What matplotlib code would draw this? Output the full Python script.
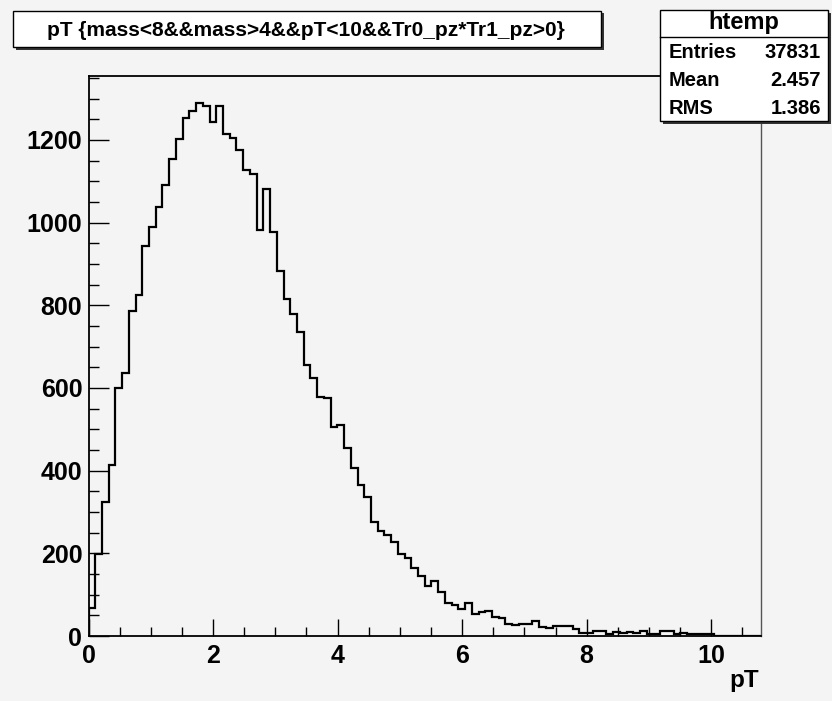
import numpy as np
import matplotlib.pyplot as plt
from matplotlib.patches import Rectangle
from matplotlib.ticker import MultipleLocator

# 100 bins of pT from 0 to 10.8 (htemp), counts
x_min, x_max, n_bins = 0.0, 10.8, 100
counts = [
    68, 198, 323, 413, 599, 635, 786, 826, 943, 990,
    1037, 1092, 1153, 1202, 1254, 1269, 1290, 1282, 1243, 1283,
    1215, 1204, 1176, 1128, 1117, 982, 1080, 976, 882, 814,
    778, 736, 655, 624, 577, 575, 506, 511, 454, 406,
    365, 335, 275, 255, 245, 227, 198, 188, 164, 144,
    120, 133, 107, 81, 75, 65, 79, 53, 57, 60,
    46, 43, 30, 27, 30, 28, 36, 21, 19, 23,
    23, 23, 16, 8, 8, 13, 13, 6, 10, 8,
    9, 7, 12, 6, 6, 12, 12, 4, 8, 4,
    4, 6, 4, 0, 0, 0, 0, 0, 0, 0,
]
title = "pT {mass<8&&mass>4&&pT<10&&Tr0_pz*Tr1_pz>0}"
stats_name = "htemp"
stats_rows = [("Entries", "37831"), ("Mean", "2.457"), ("RMS", "1.386")]

W, H = 832, 701
bg = "#f4f4f4"
plt.rcParams['font.family'] = ['Liberation Sans', 'DejaVu Sans']
plt.rcParams['font.weight'] = 'bold'

fig = plt.figure(figsize=(W / 100, H / 100), dpi=100, facecolor=bg)
ax = fig.add_axes([88.5 / W, 1 - 636 / H, (761 - 88.5) / W, (636 - 76) / H])
ax.set_facecolor(bg)

edges = np.linspace(x_min, x_max, n_bins + 1)
ax.stairs(counts, edges, color="black", linewidth=1.6, baseline=0)

ax.set_xlim(x_min, x_max)
ax.set_ylim(0, 1.05 * max(counts))
ax.xaxis.set_major_locator(MultipleLocator(2))
ax.xaxis.set_minor_locator(MultipleLocator(0.5))
ax.yaxis.set_major_locator(MultipleLocator(200))
ax.yaxis.set_minor_locator(MultipleLocator(50))
ax.tick_params(which="both", direction="in", labelsize=18, width=1)
ax.tick_params(axis="x", which="major", length=12, pad=6)
ax.tick_params(axis="x", which="minor", length=6.5)
ax.tick_params(axis="y", which="major", length=14.5, pad=4.5)
ax.tick_params(axis="y", which="minor", length=7)
for lab in ax.get_xticklabels() + ax.get_yticklabels():
    lab.set_fontweight("bold")
for s in ax.spines.values():
    s.set_linewidth(1.3)
ax.spines["right"].set_color("#555555")
ax.spines["right"].set_linewidth(1)

fig.text(759 / W, 1 - 681 / H, "pT", ha="right", va="center",
         fontsize=17.5, fontweight="bold")


def px_box(x0, y0, x1, y1):
    # shadow then white box, in pixel coords from the top-left
    fig.patches.append(Rectangle((x0 / W + 2.5 / W, 1 - y1 / H - 2.5 / H),
                                 (x1 - x0) / W, (y1 - y0) / H,
                                 transform=fig.transFigure, facecolor="#333333",
                                 edgecolor="none", zorder=5))
    fig.patches.append(Rectangle((x0 / W, 1 - y1 / H), (x1 - x0) / W, (y1 - y0) / H,
                                 transform=fig.transFigure, facecolor="white",
                                 edgecolor="black", linewidth=1, zorder=6))


# title box
px_box(13, 11, 601, 47)
fig.text(306 / W, 1 - 30 / H, title, ha="center", va="center",
         fontsize=15, fontweight="bold", zorder=7)

# stats box
px_box(660, 10, 828, 121)
fig.text(744 / W, 1 - 23 / H, stats_name, ha="center", va="center",
         fontsize=17, fontweight="bold", zorder=7)
fig.lines.append(plt.Line2D([660 / W, 828 / W], [1 - 37 / H, 1 - 37 / H],
                            transform=fig.transFigure, color="black",
                            linewidth=1, zorder=7))
for i, (name, val) in enumerate(stats_rows):
    yy = 1 - (53 + 27.5 * i) / H
    fig.text(669 / W, yy, name, ha="left", va="center",
             fontsize=14.5, fontweight="bold", zorder=7)
    fig.text(821 / W, yy, val, ha="right", va="center",
             fontsize=14.5, fontweight="bold", zorder=7)

fig.savefig("out.png", dpi=100, facecolor=bg)
